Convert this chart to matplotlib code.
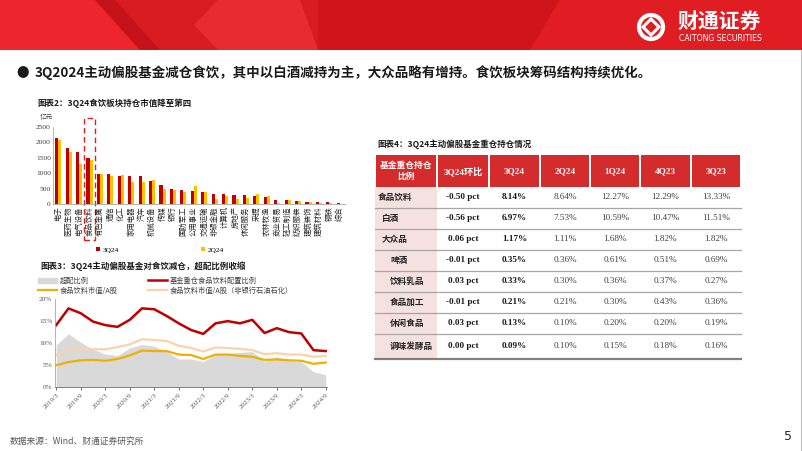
import matplotlib
matplotlib.use("Agg")
import matplotlib.pyplot as plt
from matplotlib.patches import Rectangle, Polygon, Circle, Patch
from matplotlib.lines import Line2D

CJK = ["Noto Sans CJK SC", "DejaVu Sans"]
SERIF = ["Liberation Serif", "Noto Sans CJK SC"]
plt.rcParams["font.family"] = CJK

# ---- 图表2: 各行业主动偏股基金持仓市值（亿元）----
industries = ["电子", "医药生物", "电气设备", "食品饮料", "有色金属", "通信", "化工",
              "家用电器", "汽车", "机械设备", "传媒", "银行", "国防军工", "公用事业",
              "交通运输", "非银金融", "计算机", "房地产", "休闲服务", "采掘", "农林牧渔",
              "商业贸易", "轻工制造", "纺织服装", "建筑装饰", "建筑材料", "钢铁", "综合"]
hold_3q24 = [2140, 1830, 1690, 1500, 980, 970, 915, 905, 895, 745, 610, 490, 470, 430,
             380, 340, 340, 305, 285, 260, 230, 145, 140, 100, 75, 55, 55, 20]
hold_2q24 = [2085, 1680, 1300, 1440, 985, 905, 950, 700, 720, 765, 490, 440, 405, 595,
             380, 155, 265, 155, 195, 320, 270, 40, 120, 100, 55, 30, 45, 10]
bar_yticks = [0, 500, 1000, 1500, 2000, 2500]

# ---- 图表3: 食饮配置比例 (%), 季度 ----
quarters = ["2019/3", "2019/6", "2019/9", "2019/12", "2020/3", "2020/6", "2020/9", "2020/12",
            "2021/3", "2021/6", "2021/9", "2021/12", "2022/3", "2022/6", "2022/9", "2022/12",
            "2023/3", "2023/6", "2023/9", "2023/12", "2024/3", "2024/6", "2024/9"]
overweight = [9.5, 12.0, 10.1, 8.5, 7.4, 7.1, 8.8, 9.6, 9.2, 8.0, 6.3, 6.3, 5.7, 7.3, 7.6,
              7.8, 8.0, 5.8, 6.8, 5.9, 5.7, 3.4, 2.7]
fund_fb = [14.0, 17.8, 16.7, 14.8, 14.0, 13.6, 15.2, 17.8, 17.6, 16.1, 14.4, 12.9, 12.0,
           14.4, 14.9, 14.4, 15.2, 12.2, 13.3, 12.4, 12.1, 8.3, 8.1]
mcap_share = [4.9, 5.6, 6.0, 6.1, 5.9, 6.3, 7.1, 8.2, 8.1, 8.1, 7.3, 7.2, 6.3, 7.3, 7.3,
              7.0, 6.8, 6.1, 6.2, 6.0, 5.9, 5.2, 5.5]
mcap_share_ex = [7.2, 8.3, 8.6, 8.5, 8.5, 9.0, 9.6, 10.8, 10.6, 10.4, 9.3, 8.8, 8.0, 8.9,
                 8.8, 8.6, 8.3, 7.4, 7.6, 7.3, 7.3, 6.8, 7.0]
line_yticks = [0, 5, 10, 15, 20]

# ---- 图表4: 主动偏股基金重仓持仓情况 ----
table_cols = ["3Q24环比", "3Q24", "2Q24", "1Q24", "4Q23", "3Q23"]
table_rows = ["食品饮料", "白酒", "大众品", "啤酒", "饮料乳品", "食品加工", "休闲食品", "调味发酵品"]
row_level = [0, 1, 1, 2, 2, 2, 2, 2]
qoq_pct = [-0.50, -0.56, 0.06, -0.01, 0.03, -0.01, 0.03, 0.00]
w_3q24 = [8.14, 6.97, 1.17, 0.35, 0.33, 0.21, 0.13, 0.09]
w_2q24 = [8.64, 7.53, 1.11, 0.36, 0.30, 0.21, 0.10, 0.10]
w_1q24 = [12.27, 10.59, 1.68, 0.61, 0.36, 0.30, 0.20, 0.15]
w_4q23 = [12.29, 10.47, 1.82, 0.51, 0.37, 0.43, 0.20, 0.18]
w_3q23 = [13.33, 11.51, 1.82, 0.69, 0.27, 0.36, 0.19, 0.16]

RED = "#C00000"
GOLD = "#FFC000"

fig = plt.figure(figsize=(8.02, 4.51), dpi=100)

# page canvas in pixel coords
bg = fig.add_axes([0, 0, 1, 1])
bg.set_xlim(0, 802); bg.set_ylim(451, 0); bg.axis("off")

# banner
bg.add_patch(Rectangle((0, 0), 802, 50, color="#DA1A21", lw=0))
bg.add_patch(Polygon([(0, 0), (95, 0), (140, 50), (0, 50)], color="#EC262C", lw=0))
bg.add_patch(Polygon([(95, 0), (115, 0), (160, 50), (140, 50)], color="#C5121A", lw=0))
bg.add_patch(Polygon([(194, 25), (218, 0), (300, 0), (318, 50), (218, 50)], color="#E92A30", lw=0))
bg.add_patch(Polygon([(318, 0), (560, 0), (530, 50), (318, 50)], color="#D1141B", lw=0))
bg.add_patch(Polygon([(560, 0), (802, 0), (802, 50), (530, 50)], color="#DF1D23", lw=0))
# logo
bg.add_patch(Circle((651, 27), 12, fill=False, ec="white", lw=3))
bg.add_patch(Polygon([(651, 19), (659, 27), (651, 35), (643, 27)], fill=False, ec="white", lw=2.2))
bg.text(678, 21, "财通证券", color="white", fontsize=15, fontweight="bold", va="center", ha="left")
bg.text(679, 38.5, "CAITONG SECURITIES", color="white", fontsize=5.6, va="center", ha="left",
        family="DejaVu Sans")
bg.plot([800.5, 800.5], [50, 451], color="#BFBFBF", lw=0.8)

# bullet line
bg.text(16, 73, "●", fontsize=9, va="center", color="#1A1A1A")
bg.text(35, 73, "3Q2024主动偏股基金减仓食饮，其中以白酒减持为主，大众品略有增持。食饮板块筹码结构持续优化。",
        fontsize=9.7, fontweight="bold", va="center", color="#1A1A1A")

# chart titles
bg.text(37, 103, "图表2：3Q24食饮板块持仓市值降至第四", fontsize=6.1, fontweight="bold",
        va="center", color="#1A1A1A")
bg.text(40, 266, "图表3：3Q24主动偏股基金对食饮减仓，超配比例收缩", fontsize=6.1, fontweight="bold",
        va="center", color="#1A1A1A")
bg.text(377, 144, "图表4：3Q24主动偏股基金重仓持仓情况", fontsize=6.1, fontweight="bold",
        va="center", color="#1A1A1A")
bg.text(40, 117, "亿元", fontsize=4.8, va="center", color="#404040")

# footer
bg.text(10, 441, "数据来源：Wind、财通证券研究所", fontsize=6.3, va="center", color="#595959")
bg.text(788, 436, "5", fontsize=9, va="center", ha="center", color="#262626", family="DejaVu Sans")

# ---- table ----
col_x = [375, 437, 489, 540, 590, 640, 691, 741]
row_y = [187, 207.5, 229, 249.5, 270.5, 291.5, 312.5, 333.5, 359]
hdr_top = 155
for i in range(len(col_x) - 1):
    bg.add_patch(Rectangle((col_x[i] + 0.6, hdr_top), col_x[i + 1] - col_x[i] - 1.2,
                           row_y[0] - hdr_top, color="#D42C2C", lw=0))
bg.text((col_x[0] + col_x[1]) / 2, (hdr_top + row_y[0]) / 2, "基金重仓持仓\n比例",
        color="white", fontsize=6.3, fontweight="bold", ha="center", va="center", linespacing=1.3)
for i, name in enumerate(table_cols):
    bg.text((col_x[i + 1] + col_x[i + 2]) / 2, (hdr_top + row_y[0]) / 2, name, color="white",
            fontsize=6.6, fontweight="bold", ha="center", va="center", family=SERIF)
bg.add_patch(Rectangle((col_x[0], row_y[0]), col_x[1] - col_x[0], row_y[-1] - row_y[0],
                       color="#F6E1E1", lw=0))
indent = [378, 382, 390]
cols_vals = [w_3q24, w_2q24, w_1q24, w_4q23, w_3q23]
for r, name in enumerate(table_rows):
    yc = (row_y[r] + row_y[r + 1]) / 2
    bg.text(indent[row_level[r]], yc, name, fontsize=6.2, fontweight="bold", va="center",
            color="#262626")
    bg.text((col_x[1] + col_x[2]) / 2, yc, f"{qoq_pct[r]:.2f} pct", fontsize=6.6,
            fontweight="bold", ha="center", va="center", family=SERIF, color="#1A1A1A")
    for c, vals in enumerate(cols_vals):
        bold = c == 0
        bg.text((col_x[c + 2] + col_x[c + 3]) / 2, yc, f"{vals[r]:.2f}%", fontsize=6.6,
                fontweight="bold" if bold else "normal", ha="center", va="center",
                family=SERIF, color="#1A1A1A" if bold else "#404040")
for y in row_y[1:-1]:
    bg.plot([col_x[0], col_x[-1]], [y, y], color="#A6A6A6", lw=0.9)
bg.plot([col_x[0], col_x[-1]], [row_y[-1], row_y[-1]], color="#808080", lw=1.6)

# ---- 图表2 bars ----
ax1 = fig.add_axes([53 / 802, 1 - 204 / 451, 292 / 802, 77 / 451])
x = list(range(len(industries)))
w = 0.29
ax1.bar([i - w / 2 for i in x], hold_3q24, width=w, color=RED, label="3Q24")
ax1.bar([i + w / 2 for i in x], hold_2q24, width=w, color=GOLD, label="2Q24")
ax1.set_xlim(-0.5, len(industries) - 0.5)
ax1.set_ylim(0, 2500)
ax1.set_yticks(bar_yticks)
ax1.set_yticklabels([str(v) for v in bar_yticks], family=SERIF, fontsize=5.4, color="#404040")
ax1.set_xticks(x)
ax1.set_xticklabels(industries, rotation=90, fontsize=5.3, color="#262626")
ax1.tick_params(length=0, pad=1.5)
for s in ("top", "right"):
    ax1.spines[s].set_visible(False)
for s in ("left", "bottom"):
    ax1.spines[s].set_color("#A6A6A6"); ax1.spines[s].set_linewidth(0.6)
ax1.add_patch(Rectangle((2.45, -0.47), 1.1, 1.59, transform=ax1.get_xaxis_transform(),
                        fill=False, ls=(0, (4, 2.5)), ec="#E02020", lw=1.0, clip_on=False))
ax1.legend(loc="center", bbox_to_anchor=(160 / 802, 1 - 250 / 451), bbox_transform=fig.transFigure,
           ncol=2, frameon=False, handlelength=0.5, handleheight=0.5, handletextpad=0.3,
           columnspacing=11, prop={"family": SERIF, "size": 5.4})

# ---- 图表3 lines ----
ax2 = fig.add_axes([55 / 802, 1 - 386.7 / 451, 272 / 802, 88 / 451])
qx = list(range(len(quarters)))
ax2.fill_between(qx, 0, overweight, color="#D9D9D9", lw=0)
ax2.plot(qx, mcap_share_ex, color="#FAD3AE", lw=1.6)
ax2.plot(qx, mcap_share, color="#F0B000", lw=1.6)
ax2.plot(qx, fund_fb, color=RED, lw=1.8)
ax2.set_xlim(-0.1, len(quarters) - 0.9)
ax2.set_ylim(0, 20)
ax2.set_yticks(line_yticks)
ax2.set_yticklabels([f"{v}%" for v in line_yticks], family=SERIF, fontsize=5.2, color="#595959")
ax2.set_xticks(qx[::2])
ax2.set_xticklabels(quarters[::2], rotation=45, ha="right", rotation_mode="anchor",
                    family=SERIF, fontsize=5, color="#595959")
ax2.tick_params(axis="y", length=0, pad=2)
ax2.tick_params(axis="x", length=2, width=0.6, color="#595959", pad=2)
for s in ("top", "right"):
    ax2.spines[s].set_visible(False)
ax2.spines["left"].set_color("#A6A6A6"); ax2.spines["left"].set_linewidth(0.6)
ax2.spines["bottom"].set_color("#7F7F7F"); ax2.spines["bottom"].set_linewidth(0.7)
handles = [Patch(color="#D9D9D9"), Line2D([], [], color="#F0B000", lw=1.6),
           Line2D([], [], color=RED, lw=1.8), Line2D([], [], color="#FAD3AE", lw=1.6)]
labels = ["超配比例", "食品饮料市值/A股", "基金重仓食品饮料配置比例", "食品饮料市值/A股（非银行石油石化）"]
ax2.legend(handles, labels, loc="upper left", bbox_to_anchor=(38 / 802, 1 - 277 / 451),
           bbox_transform=fig.transFigure, ncol=2, frameon=False, fontsize=5.2,
           labelcolor="#404040", handlelength=2.6, handletextpad=0.4, columnspacing=4.2,
           labelspacing=0.25, borderaxespad=0, borderpad=0)

fig.savefig("out.png", dpi=100)
